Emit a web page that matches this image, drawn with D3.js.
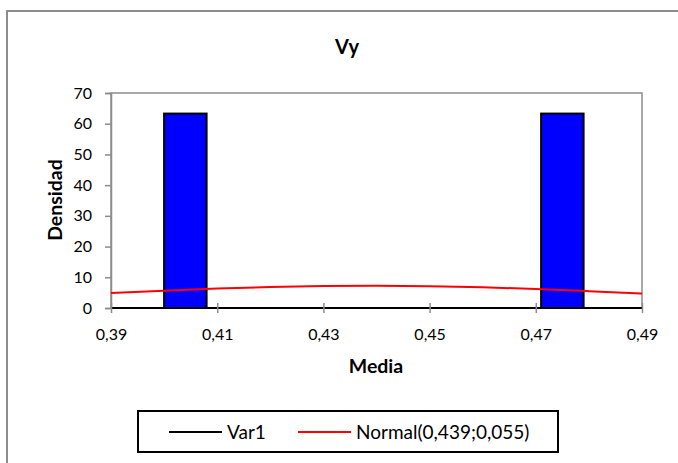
<!DOCTYPE html>
<html><head><meta charset="utf-8">
<script src="https://cdn.jsdelivr.net/npm/d3@7"></script>
<style>body{margin:0;background:#fff}svg{display:block}</style>
</head><body><svg id="c" width="678" height="463"></svg>
<script>
const chartTitle = "Vy";
const xTitle = "Media";
const yTitle = "Densidad";
const xTicks = [0.39, 0.41, 0.43, 0.45, 0.47, 0.49];
const yTicks = [0, 10, 20, 30, 40, 50, 60, 70];
const binLeft = [0.400, 0.471];
const binRight = [0.408, 0.479];
const binDensity = [63.3, 63.3];
const normalX = [0.39, 0.40, 0.41, 0.42, 0.43, 0.44, 0.45, 0.46, 0.47, 0.48, 0.49];
const normalY = [4.87, 5.64, 6.31, 6.83, 7.16, 7.25, 7.11, 6.74, 6.19, 5.49, 4.72];
const legendLabels = ["Var1", "Normal(0,439;0,055)"];
const legendColors = ["#000000", "#ff0000"];

const svg = d3.select("#c");
const FONT = "Lato, 'Open Sans', sans-serif";
const L = 111, R = 642, T = 93, B = 308;

const x = d3.scaleLinear().domain([0.39, 0.49]).range([L, R]);
const y = d3.scaleLinear().domain([0, 70]).range([B, T]);

// outer chart border
svg.append("rect").attr("x", 7).attr("y", 11).attr("width", 700).attr("height", 500)
  .attr("fill", "#fff").attr("stroke", "#8c8c8c").attr("stroke-width", 2);

// plot area border
svg.append("rect").attr("x", L).attr("y", T).attr("width", R - L).attr("height", B - T)
  .attr("fill", "#fff").attr("stroke", "#8c8c8c").attr("stroke-width", 1.5);

// title
svg.append("text").attr("x", 347).attr("y", 54).attr("text-anchor", "middle")
  .attr("font-family", FONT).attr("font-weight", "bold").attr("font-size", 20).attr("fill", "#000")
  .text(chartTitle);

// y axis
const yAxis = svg.append("g").attr("transform", `translate(${L},0)`)
  .call(d3.axisLeft(y).tickValues(yTicks).tickSize(6).tickPadding(13).tickFormat(d3.format("d")));
yAxis.select(".domain").attr("stroke", "#8c8c8c").attr("stroke-width", 1.5);
yAxis.selectAll(".tick line").attr("stroke", "#8c8c8c").attr("stroke-width", 1.5);
yAxis.selectAll(".tick text").attr("font-family", FONT).attr("font-size", 16).attr("fill", "#000");

// bars
const bins = binLeft.map((l, i) => ({l, r: binRight[i], d: binDensity[i]}));
svg.append("g").selectAll("rect").data(bins).join("rect")
  .attr("x", d => x(d.l)).attr("y", d => y(d.d))
  .attr("width", d => x(d.r) - x(d.l)).attr("height", d => y(0) - y(d.d))
  .attr("fill", "#0000ff").attr("stroke", "#000").attr("stroke-width", 2);

// x axis
const xAxis = svg.append("g").attr("transform", `translate(0,${B})`)
  .call(d3.axisBottom(x).tickValues(xTicks).tickSize(5).tickPadding(16)
    .tickFormat(d => d.toFixed(2).replace(".", ",")));
xAxis.select(".domain").attr("stroke", "#000").attr("stroke-width", 2).attr("d", `M${L},0H${R}`);
xAxis.selectAll(".tick line").attr("stroke", "#8c8c8c").attr("stroke-width", 1.5).attr("y1", -5).attr("y2", 5);
xAxis.selectAll(".tick text").attr("font-family", FONT).attr("font-size", 16).attr("fill", "#000");

// normal curve
const line = d3.line().x((d, i) => x(normalX[i])).y(d => y(d)).curve(d3.curveMonotoneX);
svg.append("path").datum(normalY).attr("d", line)
  .attr("fill", "none").attr("stroke", "#ff0000").attr("stroke-width", 2);

// axis titles
svg.append("text").attr("x", 376).attr("y", 373).attr("text-anchor", "middle")
  .attr("font-family", FONT).attr("font-weight", "bold").attr("font-size", 19.5).text(xTitle);
svg.append("text").attr("transform", "translate(62,200) rotate(-90)").attr("text-anchor", "middle")
  .attr("font-family", FONT).attr("font-weight", "bold").attr("font-size", 19.5).text(yTitle);

// legend
svg.append("rect").attr("x", 138).attr("y", 411).attr("width", 420).attr("height", 41)
  .attr("fill", "#fff").attr("stroke", "#000").attr("stroke-width", 2);
const legX = [169, 298];
legendLabels.forEach((lab, i) => {
  svg.append("line").attr("x1", legX[i]).attr("x2", legX[i] + 53).attr("y1", 432).attr("y2", 432)
    .attr("stroke", legendColors[i]).attr("stroke-width", 2);
  svg.append("text").attr("x", legX[i] + 58).attr("y", 438.5).attr("font-family", FONT)
    .attr("font-size", 19).attr("fill", "#000").text(lab);
});
</script></body></html>
